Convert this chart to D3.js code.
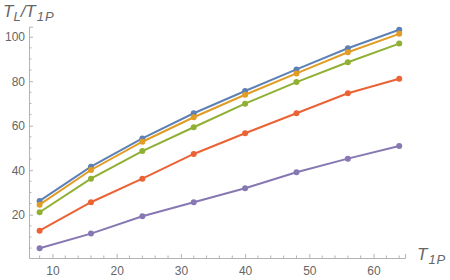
<!DOCTYPE html>
<html>
<head>
<meta charset="utf-8">
<script src="https://cdn.jsdelivr.net/npm/d3@7"></script>
<style>
  body { margin: 0; background: #fff; }
  svg { display: block; font-family: "Liberation Sans", Arial, sans-serif; }
</style>
</head>
<body>
<div id="chart"></div>
<script>
// data
const tValues = [8, 16, 24, 32, 40, 48, 56, 64];
const blueSeries   = [26.2, 41.6, 54.3, 65.6, 75.6, 85.3, 94.8, 103.1];
const orangeSeries = [24.5, 40.1, 52.8, 63.8, 73.9, 83.5, 93.0, 101.3];
const greenSeries  = [21.1, 36.2, 48.6, 59.3, 69.9, 79.6, 88.5, 96.9];
const redSeries    = [12.8, 25.6, 36.2, 47.3, 56.6, 65.6, 74.6, 81.1];
const purpleSeries = [4.9, 11.5, 19.3, 25.6, 31.9, 39.1, 45.2, 50.9];
const xTicks = [10, 20, 30, 40, 50, 60];
const yTicks = [20, 40, 60, 80, 100];

const series = [
  {values: blueSeries,   color: "#5e81b5"},
  {values: orangeSeries, color: "#e19c24"},
  {values: greenSeries,  color: "#8fb032"},
  {values: redSeries,    color: "#eb6235"},
  {values: purpleSeries, color: "#8778b3"}
];

const width = 450, height = 280;
const axisColor = "#b3b3b3", labelColor = "#666666";

const svg = d3.select("#chart").append("svg")
    .attr("width", width)
    .attr("height", height);

// scales (axes cross at the low end of each range, Mathematica style)
const xScale = d3.scaleLinear().domain([6.35, 64.9]).range([29, 405]);
const yScale = d3.scaleLinear().domain([0.54, 104.5]).range([258, 26.7]);

const x0 = xScale.range()[0], y0 = yScale.range()[0];

// minor ticks
const xMinor = d3.range(8, 65, 2).filter(v => v % 10 !== 0);
const yMinor = d3.range(5, 105, 5).filter(v => v % 20 !== 0);

// x axis: ticks pointing up into the plot
const xAxis = svg.append("g")
    .attr("transform", "translate(0," + y0 + ")")
    .call(d3.axisBottom(xScale).tickValues(xTicks).tickSize(-4).tickPadding(8));
xAxis.selectAll("line.minor")
    .data(xMinor)
    .join("line")
        .attr("class", "minor")
        .attr("x1", d => xScale(d)).attr("x2", d => xScale(d))
        .attr("y1", 0).attr("y2", -2.5);

// y axis: ticks pointing right into the plot
const yAxis = svg.append("g")
    .attr("transform", "translate(" + x0 + ",0)")
    .call(d3.axisLeft(yScale).tickValues(yTicks).tickSize(-4).tickPadding(4));
yAxis.selectAll("line.minor")
    .data(yMinor)
    .join("line")
        .attr("class", "minor")
        .attr("y1", d => yScale(d)).attr("y2", d => yScale(d))
        .attr("x1", 0).attr("x2", 2.5);

[xAxis, yAxis].forEach(function(ax) {
  ax.select(".domain").attr("stroke", axisColor);
  ax.selectAll("line").attr("stroke", axisColor);
  ax.selectAll("text")
      .attr("fill", labelColor)
      .style("font-size", "12px")
      .style("font-family", "'Liberation Sans', Arial, sans-serif");
});

// lines and points
const line = d3.line()
    .x((d, i) => xScale(tValues[i]))
    .y(d => yScale(d));

series.forEach(function(s) {
  svg.append("path")
      .datum(s.values)
      .attr("d", line)
      .attr("fill", "none")
      .attr("stroke", s.color)
      .attr("stroke-width", 2);
  svg.append("g")
    .selectAll("circle")
    .data(s.values)
    .join("circle")
        .attr("cx", (d, i) => xScale(tValues[i]))
        .attr("cy", d => yScale(d))
        .attr("r", 3)
        .attr("fill", s.color);
});

// axis labels
const yLabel = svg.append("text")
    .attr("x", 3)
    .attr("y", 17)
    .attr("fill", labelColor)
    .style("font-size", "17px")
    .style("font-style", "italic");
yLabel.append("tspan").text("T");
yLabel.append("tspan").attr("dy", 4).style("font-size", "13px").text("L");
yLabel.append("tspan").attr("dy", -4).text("/T");
yLabel.append("tspan").attr("dy", 4).attr("dx", 1).style("font-size", "13px").style("letter-spacing", "1px").text("1P");

const xLabel = svg.append("text")
    .attr("x", 417)
    .attr("y", 260)
    .attr("fill", labelColor)
    .style("font-size", "17px")
    .style("font-style", "italic");
xLabel.append("tspan").text("T");
xLabel.append("tspan").attr("dy", 4).attr("dx", 1).style("font-size", "13px").style("letter-spacing", "1px").text("1P");
</script>
</body>
</html>
